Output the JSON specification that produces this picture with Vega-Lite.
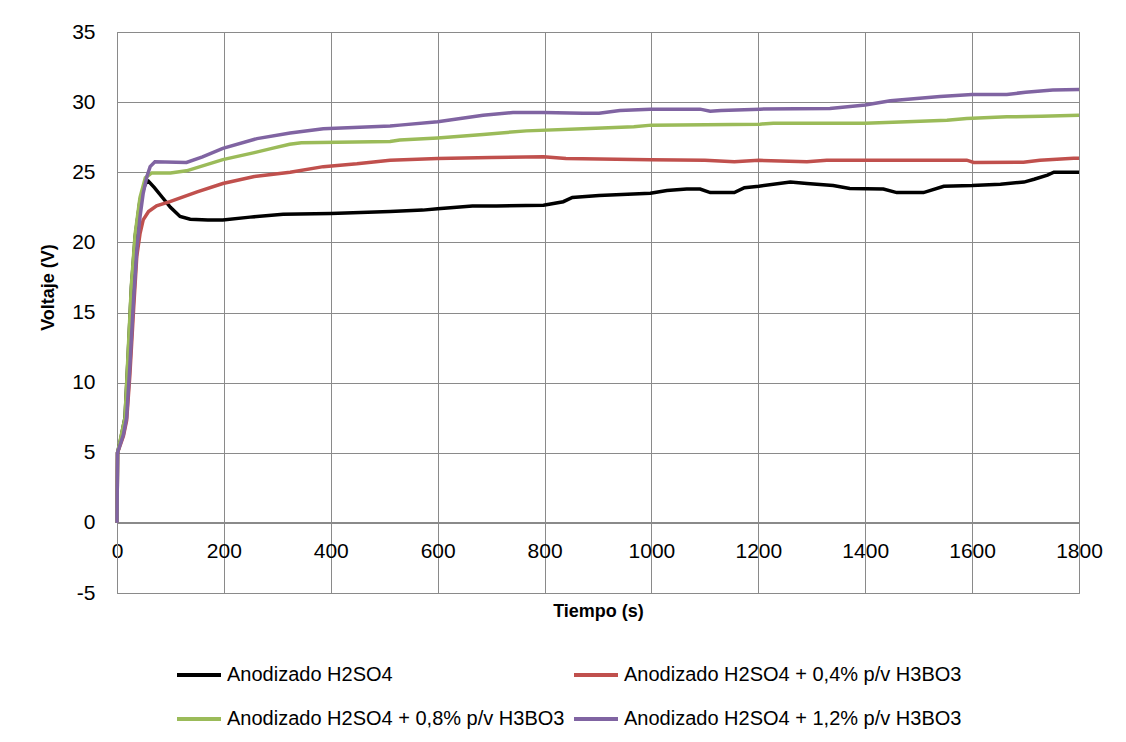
{
  "$schema": "https://vega.github.io/schema/vega-lite/v6.json",
  "width": 962,
  "height": 561,
  "autosize": {"type": "none"},
  "padding": {"left": 117, "top": 32, "right": 47, "bottom": 149},
  "background": "white",
  "config": {"font": "Liberation Sans", "view": {"stroke": "#8a8a8a", "strokeWidth": 1}},
  "data": {"values": [
    {"s": "Anodizado H2SO4", "t": 0, "v": 0},
    {"s": "Anodizado H2SO4", "t": 1, "v": 5.0},
    {"s": "Anodizado H2SO4", "t": 6, "v": 5.8},
    {"s": "Anodizado H2SO4", "t": 15, "v": 7.5},
    {"s": "Anodizado H2SO4", "t": 21, "v": 12.0},
    {"s": "Anodizado H2SO4", "t": 27, "v": 16.8},
    {"s": "Anodizado H2SO4", "t": 34, "v": 20.4},
    {"s": "Anodizado H2SO4", "t": 43, "v": 23.0},
    {"s": "Anodizado H2SO4", "t": 53, "v": 24.2},
    {"s": "Anodizado H2SO4", "t": 59, "v": 24.35},
    {"s": "Anodizado H2SO4", "t": 70, "v": 23.9},
    {"s": "Anodizado H2SO4", "t": 85, "v": 23.2},
    {"s": "Anodizado H2SO4", "t": 100, "v": 22.5},
    {"s": "Anodizado H2SO4", "t": 118, "v": 21.85},
    {"s": "Anodizado H2SO4", "t": 137, "v": 21.65},
    {"s": "Anodizado H2SO4", "t": 170, "v": 21.6},
    {"s": "Anodizado H2SO4", "t": 198, "v": 21.6},
    {"s": "Anodizado H2SO4", "t": 249, "v": 21.8},
    {"s": "Anodizado H2SO4", "t": 311, "v": 22.0},
    {"s": "Anodizado H2SO4", "t": 400, "v": 22.05},
    {"s": "Anodizado H2SO4", "t": 511, "v": 22.2},
    {"s": "Anodizado H2SO4", "t": 572, "v": 22.3},
    {"s": "Anodizado H2SO4", "t": 600, "v": 22.4},
    {"s": "Anodizado H2SO4", "t": 665, "v": 22.6},
    {"s": "Anodizado H2SO4", "t": 710, "v": 22.6},
    {"s": "Anodizado H2SO4", "t": 798, "v": 22.65},
    {"s": "Anodizado H2SO4", "t": 835, "v": 22.9},
    {"s": "Anodizado H2SO4", "t": 852, "v": 23.2},
    {"s": "Anodizado H2SO4", "t": 902, "v": 23.35},
    {"s": "Anodizado H2SO4", "t": 998, "v": 23.5},
    {"s": "Anodizado H2SO4", "t": 1029, "v": 23.7},
    {"s": "Anodizado H2SO4", "t": 1066, "v": 23.8},
    {"s": "Anodizado H2SO4", "t": 1091, "v": 23.8},
    {"s": "Anodizado H2SO4", "t": 1110, "v": 23.55},
    {"s": "Anodizado H2SO4", "t": 1155, "v": 23.55},
    {"s": "Anodizado H2SO4", "t": 1174, "v": 23.9},
    {"s": "Anodizado H2SO4", "t": 1201, "v": 24.0},
    {"s": "Anodizado H2SO4", "t": 1260, "v": 24.3},
    {"s": "Anodizado H2SO4", "t": 1291, "v": 24.2},
    {"s": "Anodizado H2SO4", "t": 1340, "v": 24.05},
    {"s": "Anodizado H2SO4", "t": 1371, "v": 23.85},
    {"s": "Anodizado H2SO4", "t": 1434, "v": 23.8},
    {"s": "Anodizado H2SO4", "t": 1459, "v": 23.55},
    {"s": "Anodizado H2SO4", "t": 1509, "v": 23.55},
    {"s": "Anodizado H2SO4", "t": 1547, "v": 24.0},
    {"s": "Anodizado H2SO4", "t": 1600, "v": 24.05},
    {"s": "Anodizado H2SO4", "t": 1653, "v": 24.15},
    {"s": "Anodizado H2SO4", "t": 1697, "v": 24.3},
    {"s": "Anodizado H2SO4", "t": 1716, "v": 24.5},
    {"s": "Anodizado H2SO4", "t": 1741, "v": 24.8},
    {"s": "Anodizado H2SO4", "t": 1753, "v": 25.0},
    {"s": "Anodizado H2SO4", "t": 1800, "v": 25.0},

    {"s": "Anodizado H2SO4 + 0,4% p/v H3BO3", "t": 0, "v": 0},
    {"s": "Anodizado H2SO4 + 0,4% p/v H3BO3", "t": 1, "v": 5.0},
    {"s": "Anodizado H2SO4 + 0,4% p/v H3BO3", "t": 12, "v": 6.2},
    {"s": "Anodizado H2SO4 + 0,4% p/v H3BO3", "t": 18, "v": 7.3},
    {"s": "Anodizado H2SO4 + 0,4% p/v H3BO3", "t": 24, "v": 10.5},
    {"s": "Anodizado H2SO4 + 0,4% p/v H3BO3", "t": 31, "v": 15.2},
    {"s": "Anodizado H2SO4 + 0,4% p/v H3BO3", "t": 37, "v": 19.0},
    {"s": "Anodizado H2SO4 + 0,4% p/v H3BO3", "t": 43, "v": 20.6},
    {"s": "Anodizado H2SO4 + 0,4% p/v H3BO3", "t": 49, "v": 21.6},
    {"s": "Anodizado H2SO4 + 0,4% p/v H3BO3", "t": 59, "v": 22.2},
    {"s": "Anodizado H2SO4 + 0,4% p/v H3BO3", "t": 74, "v": 22.6},
    {"s": "Anodizado H2SO4 + 0,4% p/v H3BO3", "t": 99, "v": 22.9},
    {"s": "Anodizado H2SO4 + 0,4% p/v H3BO3", "t": 150, "v": 23.6},
    {"s": "Anodizado H2SO4 + 0,4% p/v H3BO3", "t": 198, "v": 24.2},
    {"s": "Anodizado H2SO4 + 0,4% p/v H3BO3", "t": 257, "v": 24.7},
    {"s": "Anodizado H2SO4 + 0,4% p/v H3BO3", "t": 324, "v": 25.0},
    {"s": "Anodizado H2SO4 + 0,4% p/v H3BO3", "t": 386, "v": 25.4},
    {"s": "Anodizado H2SO4 + 0,4% p/v H3BO3", "t": 449, "v": 25.6},
    {"s": "Anodizado H2SO4 + 0,4% p/v H3BO3", "t": 511, "v": 25.85},
    {"s": "Anodizado H2SO4 + 0,4% p/v H3BO3", "t": 600, "v": 25.98},
    {"s": "Anodizado H2SO4 + 0,4% p/v H3BO3", "t": 700, "v": 26.05},
    {"s": "Anodizado H2SO4 + 0,4% p/v H3BO3", "t": 798, "v": 26.1},
    {"s": "Anodizado H2SO4 + 0,4% p/v H3BO3", "t": 840, "v": 25.98},
    {"s": "Anodizado H2SO4 + 0,4% p/v H3BO3", "t": 998, "v": 25.9},
    {"s": "Anodizado H2SO4 + 0,4% p/v H3BO3", "t": 1100, "v": 25.85},
    {"s": "Anodizado H2SO4 + 0,4% p/v H3BO3", "t": 1155, "v": 25.75},
    {"s": "Anodizado H2SO4 + 0,4% p/v H3BO3", "t": 1201, "v": 25.85},
    {"s": "Anodizado H2SO4 + 0,4% p/v H3BO3", "t": 1241, "v": 25.8},
    {"s": "Anodizado H2SO4 + 0,4% p/v H3BO3", "t": 1291, "v": 25.75},
    {"s": "Anodizado H2SO4 + 0,4% p/v H3BO3", "t": 1328, "v": 25.86},
    {"s": "Anodizado H2SO4 + 0,4% p/v H3BO3", "t": 1590, "v": 25.86},
    {"s": "Anodizado H2SO4 + 0,4% p/v H3BO3", "t": 1603, "v": 25.7},
    {"s": "Anodizado H2SO4 + 0,4% p/v H3BO3", "t": 1696, "v": 25.72},
    {"s": "Anodizado H2SO4 + 0,4% p/v H3BO3", "t": 1727, "v": 25.86},
    {"s": "Anodizado H2SO4 + 0,4% p/v H3BO3", "t": 1790, "v": 26.0},
    {"s": "Anodizado H2SO4 + 0,4% p/v H3BO3", "t": 1800, "v": 26.0},

    {"s": "Anodizado H2SO4 + 0,8% p/v H3BO3", "t": 0, "v": 0},
    {"s": "Anodizado H2SO4 + 0,8% p/v H3BO3", "t": 1, "v": 5.0},
    {"s": "Anodizado H2SO4 + 0,8% p/v H3BO3", "t": 6, "v": 5.9},
    {"s": "Anodizado H2SO4 + 0,8% p/v H3BO3", "t": 15, "v": 7.5},
    {"s": "Anodizado H2SO4 + 0,8% p/v H3BO3", "t": 21, "v": 12.3},
    {"s": "Anodizado H2SO4 + 0,8% p/v H3BO3", "t": 27, "v": 17.0},
    {"s": "Anodizado H2SO4 + 0,8% p/v H3BO3", "t": 34, "v": 20.6},
    {"s": "Anodizado H2SO4 + 0,8% p/v H3BO3", "t": 43, "v": 23.2},
    {"s": "Anodizado H2SO4 + 0,8% p/v H3BO3", "t": 53, "v": 24.6},
    {"s": "Anodizado H2SO4 + 0,8% p/v H3BO3", "t": 65, "v": 24.95},
    {"s": "Anodizado H2SO4 + 0,8% p/v H3BO3", "t": 100, "v": 24.95},
    {"s": "Anodizado H2SO4 + 0,8% p/v H3BO3", "t": 130, "v": 25.1},
    {"s": "Anodizado H2SO4 + 0,8% p/v H3BO3", "t": 198, "v": 25.9},
    {"s": "Anodizado H2SO4 + 0,8% p/v H3BO3", "t": 257, "v": 26.4},
    {"s": "Anodizado H2SO4 + 0,8% p/v H3BO3", "t": 290, "v": 26.7},
    {"s": "Anodizado H2SO4 + 0,8% p/v H3BO3", "t": 323, "v": 27.0},
    {"s": "Anodizado H2SO4 + 0,8% p/v H3BO3", "t": 345, "v": 27.1},
    {"s": "Anodizado H2SO4 + 0,8% p/v H3BO3", "t": 511, "v": 27.2},
    {"s": "Anodizado H2SO4 + 0,8% p/v H3BO3", "t": 529, "v": 27.3},
    {"s": "Anodizado H2SO4 + 0,8% p/v H3BO3", "t": 600, "v": 27.45},
    {"s": "Anodizado H2SO4 + 0,8% p/v H3BO3", "t": 685, "v": 27.7},
    {"s": "Anodizado H2SO4 + 0,8% p/v H3BO3", "t": 766, "v": 27.95},
    {"s": "Anodizado H2SO4 + 0,8% p/v H3BO3", "t": 872, "v": 28.1},
    {"s": "Anodizado H2SO4 + 0,8% p/v H3BO3", "t": 967, "v": 28.25},
    {"s": "Anodizado H2SO4 + 0,8% p/v H3BO3", "t": 1000, "v": 28.36},
    {"s": "Anodizado H2SO4 + 0,8% p/v H3BO3", "t": 1203, "v": 28.43},
    {"s": "Anodizado H2SO4 + 0,8% p/v H3BO3", "t": 1228, "v": 28.5},
    {"s": "Anodizado H2SO4 + 0,8% p/v H3BO3", "t": 1400, "v": 28.5},
    {"s": "Anodizado H2SO4 + 0,8% p/v H3BO3", "t": 1478, "v": 28.6},
    {"s": "Anodizado H2SO4 + 0,8% p/v H3BO3", "t": 1553, "v": 28.7},
    {"s": "Anodizado H2SO4 + 0,8% p/v H3BO3", "t": 1590, "v": 28.83},
    {"s": "Anodizado H2SO4 + 0,8% p/v H3BO3", "t": 1665, "v": 28.95},
    {"s": "Anodizado H2SO4 + 0,8% p/v H3BO3", "t": 1730, "v": 29.0},
    {"s": "Anodizado H2SO4 + 0,8% p/v H3BO3", "t": 1800, "v": 29.07},

    {"s": "Anodizado H2SO4 + 1,2% p/v H3BO3", "t": 0, "v": 0},
    {"s": "Anodizado H2SO4 + 1,2% p/v H3BO3", "t": 1, "v": 5.0},
    {"s": "Anodizado H2SO4 + 1,2% p/v H3BO3", "t": 12, "v": 6.3},
    {"s": "Anodizado H2SO4 + 1,2% p/v H3BO3", "t": 18, "v": 7.5},
    {"s": "Anodizado H2SO4 + 1,2% p/v H3BO3", "t": 24, "v": 11.1},
    {"s": "Anodizado H2SO4 + 1,2% p/v H3BO3", "t": 31, "v": 15.9},
    {"s": "Anodizado H2SO4 + 1,2% p/v H3BO3", "t": 37, "v": 19.4},
    {"s": "Anodizado H2SO4 + 1,2% p/v H3BO3", "t": 43, "v": 21.8},
    {"s": "Anodizado H2SO4 + 1,2% p/v H3BO3", "t": 49, "v": 23.5},
    {"s": "Anodizado H2SO4 + 1,2% p/v H3BO3", "t": 56, "v": 24.7},
    {"s": "Anodizado H2SO4 + 1,2% p/v H3BO3", "t": 62, "v": 25.4},
    {"s": "Anodizado H2SO4 + 1,2% p/v H3BO3", "t": 71, "v": 25.75},
    {"s": "Anodizado H2SO4 + 1,2% p/v H3BO3", "t": 130, "v": 25.7},
    {"s": "Anodizado H2SO4 + 1,2% p/v H3BO3", "t": 160, "v": 26.1},
    {"s": "Anodizado H2SO4 + 1,2% p/v H3BO3", "t": 198, "v": 26.7},
    {"s": "Anodizado H2SO4 + 1,2% p/v H3BO3", "t": 262, "v": 27.4},
    {"s": "Anodizado H2SO4 + 1,2% p/v H3BO3", "t": 324, "v": 27.8},
    {"s": "Anodizado H2SO4 + 1,2% p/v H3BO3", "t": 386, "v": 28.1},
    {"s": "Anodizado H2SO4 + 1,2% p/v H3BO3", "t": 511, "v": 28.3},
    {"s": "Anodizado H2SO4 + 1,2% p/v H3BO3", "t": 529, "v": 28.36},
    {"s": "Anodizado H2SO4 + 1,2% p/v H3BO3", "t": 600, "v": 28.6},
    {"s": "Anodizado H2SO4 + 1,2% p/v H3BO3", "t": 685, "v": 29.07},
    {"s": "Anodizado H2SO4 + 1,2% p/v H3BO3", "t": 741, "v": 29.26},
    {"s": "Anodizado H2SO4 + 1,2% p/v H3BO3", "t": 798, "v": 29.26},
    {"s": "Anodizado H2SO4 + 1,2% p/v H3BO3", "t": 872, "v": 29.2},
    {"s": "Anodizado H2SO4 + 1,2% p/v H3BO3", "t": 902, "v": 29.2},
    {"s": "Anodizado H2SO4 + 1,2% p/v H3BO3", "t": 941, "v": 29.4},
    {"s": "Anodizado H2SO4 + 1,2% p/v H3BO3", "t": 998, "v": 29.5},
    {"s": "Anodizado H2SO4 + 1,2% p/v H3BO3", "t": 1091, "v": 29.5},
    {"s": "Anodizado H2SO4 + 1,2% p/v H3BO3", "t": 1110, "v": 29.35},
    {"s": "Anodizado H2SO4 + 1,2% p/v H3BO3", "t": 1130, "v": 29.4},
    {"s": "Anodizado H2SO4 + 1,2% p/v H3BO3", "t": 1203, "v": 29.5},
    {"s": "Anodizado H2SO4 + 1,2% p/v H3BO3", "t": 1334, "v": 29.55},
    {"s": "Anodizado H2SO4 + 1,2% p/v H3BO3", "t": 1400, "v": 29.8},
    {"s": "Anodizado H2SO4 + 1,2% p/v H3BO3", "t": 1447, "v": 30.1},
    {"s": "Anodizado H2SO4 + 1,2% p/v H3BO3", "t": 1540, "v": 30.4},
    {"s": "Anodizado H2SO4 + 1,2% p/v H3BO3", "t": 1600, "v": 30.55},
    {"s": "Anodizado H2SO4 + 1,2% p/v H3BO3", "t": 1665, "v": 30.55},
    {"s": "Anodizado H2SO4 + 1,2% p/v H3BO3", "t": 1700, "v": 30.7},
    {"s": "Anodizado H2SO4 + 1,2% p/v H3BO3", "t": 1751, "v": 30.86},
    {"s": "Anodizado H2SO4 + 1,2% p/v H3BO3", "t": 1800, "v": 30.9}
  ]},
  "mark": {"type": "line", "strokeWidth": 3.5},
  "encoding": {
    "x": {
      "field": "t", "type": "quantitative",
      "scale": {"domain": [0, 1800], "nice": false},
      "axis": {
        "title": "Tiempo (s)",
        "values": [0, 200, 400, 600, 800, 1000, 1200, 1400, 1600, 1800],
        "labelExpr": "'' + datum.value",
        "offset": -71,
        "grid": true, "gridColor": "#8a8a8a", "gridOpacity": 1, "gridWidth": 1,
        "domainColor": "#8a8a8a",
        "ticks": false, "tickSize": 0,
        "labelPadding": 18, "labelFontSize": 21, "labelColor": "#000000", "labelFlush": false,
        "titleFontSize": 18, "titleFontWeight": "bold", "titleColor": "#000000",
        "titleX": 481, "titleY": 89, "titleBaseline": "middle", "titleAlign": "center"
      }
    },
    "y": {
      "field": "v", "type": "quantitative",
      "scale": {"domain": [-5, 35], "nice": false, "zero": false},
      "axis": {
        "title": "Voltaje (V)",
        "values": [-5, 0, 5, 10, 15, 20, 25, 30, 35],
        "labelExpr": "'' + datum.value",
        "grid": true, "gridColor": "#8a8a8a", "gridOpacity": 1, "gridWidth": 1,
        "domainColor": "#8a8a8a",
        "ticks": false, "tickSize": 0,
        "labelPadding": 22, "labelFontSize": 21, "labelColor": "#000000",
        "titleFontSize": 18, "titleFontWeight": "bold", "titleColor": "#000000",
        "titleX": -69, "titleY": 255, "titleAngle": 270, "titleBaseline": "middle", "titleAlign": "center"
      }
    },
    "color": {
      "field": "s", "type": "nominal",
      "scale": {
        "domain": ["Anodizado H2SO4", "Anodizado H2SO4 + 0,4% p/v H3BO3", "Anodizado H2SO4 + 0,8% p/v H3BO3", "Anodizado H2SO4 + 1,2% p/v H3BO3"],
        "range": ["#000000", "#c0504d", "#9bbb59", "#8064a2"]
      },
      "legend": {
        "title": null,
        "orient": "none", "legendX": 58, "legendY": 619,
        "columns": 2, "direction": "horizontal",
        "columnPadding": 1, "rowPadding": 10, "padding": 0,
        "symbolType": "stroke", "symbolSize": 1936, "symbolStrokeWidth": 4,
        "labelFontSize": 20, "labelLimit": 0, "labelOffset": 4, "labelColor": "#000000"
      }
    }
  }
}
